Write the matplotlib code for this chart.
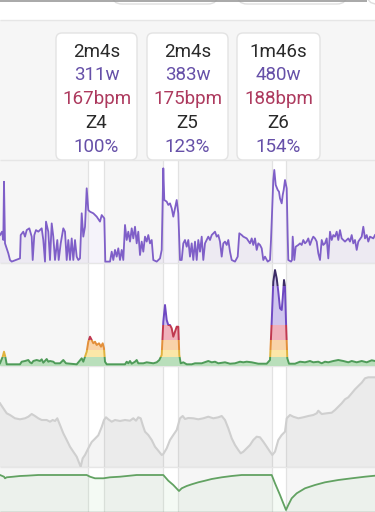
import numpy as np
import matplotlib.pyplot as plt
from matplotlib.patches import Rectangle, FancyBboxPatch

plt.rcParams['font.family'] = ['Roboto', 'DejaVu Sans']

W, H = 375, 512

# time axis is in screen ticks (~7.6 s each)
intervals = [(87.5, 104), (162.5, 178), (272, 286)]
lab_time = ['2m4s', '2m4s', '1m46s']
lab_watts = ['311w', '383w', '480w']
lab_bpm = ['167bpm', '175bpm', '188bpm']
lab_zone = ['Z4', 'Z5', 'Z6']
lab_pct = ['100%', '123%', '154%']

# power (watts)
power_t = [0, 2, 3.3, 4, 5, 6.7, 8.3, 10, 11.7, 20,
           20.7, 23.3, 25, 26.7, 29.3, 31.7, 32.7, 34.3, 36, 38.3,
           41.7, 43.3, 45, 46, 48.3, 50, 51.7, 53.3, 55, 57.3,
           58.7, 60.7, 63.3, 65, 66.7, 68.3, 70, 71.7, 73.3, 75,
           76.7, 78.3, 80, 81.7, 83.3, 85, 86.7, 88.3, 90, 93.3,
           96.7, 100, 101.7, 104.3, 105.3, 110, 111.7, 113.3, 115, 116.7,
           118.3, 120, 121.7, 123.3, 125, 126.7, 128.3, 130, 131.7, 133.3,
           135, 136.7, 138.3, 140, 141.7, 143.3, 145, 146.7, 148.3, 150,
           151.7, 153.3, 156.7, 160, 161.7, 163.3, 164.3, 166.7, 168.3, 170,
           171.7, 173.3, 175, 176.7, 178.3, 180, 181.7, 183.3, 185, 186.7,
           188.3, 190, 191.7, 193.3, 195, 196.7, 198.3, 200, 201.7, 203.3,
           205, 206.7, 208.3, 210, 211.7, 215, 216.7, 218.3, 220, 221.7,
           223.3, 225, 226.7, 228.3, 230, 231.7, 235, 237.7, 239.3, 241.7,
           243.3, 246.7, 250, 251.7, 253.3, 255, 256.7, 258.3, 260, 261.7,
           263.3, 265, 267.7, 270, 271, 272.3, 273.3, 274.3, 275.7, 277.7,
           279, 280, 281.7, 282.7, 283.7, 285, 286.7, 287.7, 288.3, 291,
           292, 292.7, 294.3, 295.7, 298.3, 300, 301.7, 303.3, 305, 306.7,
           308.3, 310, 311.7, 313.3, 315, 316.7, 318.3, 320, 321.7, 323.3,
           325, 326.7, 328.3, 330, 331.7, 333.3, 335, 336.7, 338.3, 340,
           341.7, 345, 348.3, 350, 351.7, 353.3, 355, 356.7, 358.3, 361.7,
           363.3, 365, 366.7, 368.3, 370, 373.3, 375]
power_w = [181, 202, 150, 514, 129, 98, 67, 25, 15, 35,
           181, 202, 171, 212, 223, 171, 25, 181, 212, 202,
           223, 150, 15, 265, 202, 25, 254, 171, 25, 150,
           25, 129, 223, 202, 25, 150, 25, 160, 25, 150,
           46, 25, 35, 317, 171, 233, 473, 337, 327, 317,
           296, 265, 306, 285, 15, 15, 77, 25, 88, 46,
           98, 25, 88, 25, 244, 150, 202, 140, 223, 160,
           233, 129, 202, 56, 140, 77, 171, 140, 181, 129,
           150, 25, 15, 35, 88, 598, 400, 390, 369, 379,
           348, 296, 348, 400, 317, 25, 25, 129, 150, 108,
           150, 46, 129, 25, 140, 25, 150, 77, 171, 25,
           129, 150, 171, 150, 181, 202, 171, 181, 140, 46,
           129, 140, 119, 150, 77, 25, 15, 46, 192, 181,
           171, 160, 129, 160, 119, 160, 88, 129, 119, 98,
           25, 46, 15, 25, 150, 358, 525, 588, 494, 463,
           452, 410, 379, 431, 463, 525, 473, 171, 25, 15,
           25, 171, 25, 108, 119, 129, 119, 150, 129, 140,
           160, 119, 150, 171, 160, 140, 67, 25, 150, 119,
           129, 160, 35, 202, 150, 181, 171, 202, 150, 212,
           160, 140, 160, 140, 181, 129, 150, 88, 140, 171,
           233, 160, 181, 140, 171, 160, 181]

# zone load curve (coloured by zone)
load_t = [0, 2.7, 4, 5.3, 6.7, 20, 21.7, 25, 28.3, 30,
          31.7, 33.3, 36.7, 40, 41.7, 43.3, 46.7, 48.3, 50, 53.3,
          55, 60, 63.3, 66, 76.7, 81.7, 83.3, 85, 86.7, 88.3,
          90, 91.7, 93.3, 95, 96.7, 99, 101, 102.7, 104, 105,
          106.7, 125, 126.7, 128.3, 130, 131.7, 135, 136.7, 138.3, 143.3,
          146.7, 153.3, 156.7, 159.3, 161.7, 163.3, 165, 166.7, 168.3, 170,
          171.7, 173.3, 175, 176.7, 178.3, 179.3, 180.7, 183.3, 186.7, 191.7,
          195, 201.7, 208.3, 211.7, 215, 218.3, 225, 230, 235, 240,
          243.3, 246.7, 251.7, 255, 258.3, 266.7, 270, 271.7, 273.3, 275,
          276.7, 278.3, 280, 281.7, 282.7, 284, 285, 286, 287.3, 289,
          295, 300, 305, 310, 313.3, 318.3, 321.7, 325, 328.3, 333.3,
          338.3, 343.3, 348.3, 351.7, 356.7, 361.7, 366.7, 371.7, 375]
load_v = [2.7, 9.3, 14.3, 9.3, 1.7, 1.7, 4.3, 5, 6, 3.7,
          2.7, 5, 6, 5, 6.7, 3.3, 7, 4.3, 5, 4.3,
          2.7, 2.7, 6, 2.7, 1.7, 7.7, 4.3, 9.3, 14.3, 24.3,
          29.3, 26, 22.7, 24.3, 21, 22.7, 19.3, 22.7, 17.7, 4.3,
          1.7, 1.7, 4.3, 2.7, 5, 2.3, 4.3, 6, 2.7, 2.7,
          3.7, 2.7, 3.7, 6, 11, 44.3, 61, 46, 41, 41,
          37.7, 29.3, 34.3, 39.3, 39.3, 11, 2.7, 3.7, 1.7, 1.7,
          2.7, 2.7, 5, 3.7, 4.3, 2.7, 3.7, 2.3, 2.7, 4.3,
          3.7, 4.3, 3.7, 3, 2.3, 2.3, 6, 44.3, 84.3, 96,
          87.7, 74.3, 57.7, 56, 67.7, 86, 79.3, 44.3, 7.7, 2.3,
          2.3, 4.3, 3.7, 5, 3.7, 4.3, 2.7, 4.3, 3.7, 5,
          6, 5, 3.7, 5, 3.7, 5, 3.7, 5.7, 5]
zone_lo = [0, 9, 16, 26, 41, 80]
zone_fill = ['#b9dfbb', '#fbe7a8', '#f9d3a8', '#f0b1bb', '#cfc5ee', '#cfc5ee']
zone_line = ['#4f9b59', '#e0b23e', '#e38f3a', '#c0384f', '#6f49c2', '#3c2c66']

# altitude (relative metres)
alt_t = [0, 3.3, 6.7, 10, 15, 20, 25, 28.3, 31.7, 35,
         38.3, 41.7, 46.7, 50, 52.7, 55, 57.3, 60, 63.3, 66.7,
         70, 73.3, 76.7, 79.3, 80.7, 82.7, 85, 88.3, 91.7, 95,
         98.3, 101.7, 104, 106, 108.3, 111.7, 115, 120, 125, 130,
         133.3, 136, 138.3, 140.7, 142.7, 145, 148.3, 151.7, 155, 158.3,
         161.7, 163.3, 166.7, 170, 173.3, 176.7, 180, 182.7, 185, 188.3,
         193.3, 198.3, 203.3, 208.3, 213.3, 218.3, 221.7, 225, 228.3, 231.7,
         235, 238.3, 240.7, 243.3, 246.7, 250, 253.3, 256.7, 260, 263.3,
         266.7, 270, 272.3, 275, 278.3, 281.7, 285, 286.7, 290, 293.3,
         298.3, 303.3, 308.3, 313.3, 316.7, 318.3, 321.7, 326.7, 331.7, 335,
         338.3, 341.7, 345, 348.3, 351.7, 355, 358.3, 361.7, 365, 368.3,
         375]
alt_m = [63.7, 58.7, 53.7, 52, 48.7, 47.7, 48.7, 50.3, 53, 51,
         48.7, 47, 47, 45.3, 47, 46, 48.7, 42, 33.7, 27,
         20.3, 15.3, 10.3, 3.7, 0.3, 8.7, 12, 18.7, 25, 28.3,
         31.7, 40, 47, 49.7, 47.7, 45.3, 47, 46, 47, 46.3,
         48.7, 46.3, 49.7, 48.7, 42, 35.3, 32, 27, 20.3, 16.3,
         12, 13, 18.7, 27, 32, 37, 48.7, 51, 48, 49,
         48.7, 47.7, 48.7, 50.3, 48.7, 49.7, 51, 47, 38.7, 28.7,
         22, 17, 13.7, 15.3, 18.7, 22, 27, 30.3, 29.7, 25.3,
         20.3, 15.3, 12, 15.3, 27, 32, 35.3, 48.7, 52, 50.3,
         48.7, 49.7, 51, 52, 53.7, 56.3, 53, 53.7, 54.3, 57,
         60.3, 63.7, 67.7, 69.7, 73.7, 77.7, 81, 84.3, 88.7, 89.7,
         89.7]

# W' balance
wbal_t = [0, 4, 5, 6.7, 13.3, 20, 26.7, 38.3, 86.7, 90,
          95, 103.3, 110, 120, 136.7, 163.3, 168.3, 173.3, 179, 181.7,
          186.7, 191.7, 198.3, 205, 211.7, 221.7, 231.7, 241.7, 271.7, 275,
          280, 283.3, 286, 288.3, 291.7, 296.7, 305, 315, 325, 338.3,
          351.7, 365, 375]
wbal_v = [37, 35.3, 33.7, 34.7, 35.3, 36, 36.3, 37, 37, 35.3,
          33.7, 33.7, 34.7, 35.3, 37, 37, 31.3, 27, 21, 23.7,
          26, 27.7, 29.7, 31.3, 33, 34.7, 36, 37, 37, 28.7,
          17, 8.7, 2, 7, 13.7, 18.7, 23.7, 27, 29.7, 32,
          33.7, 35.3, 36.3]

fig = plt.figure(figsize=(W / 100, H / 100), dpi=100)
fig.patch.set_facecolor('white')

# background / chrome, in pixel coords
bg = fig.add_axes([0, 0, 1, 1])
bg.set_xlim(0, W)
bg.set_ylim(H, 0)
bg.axis('off')
bg.set_zorder(0)
bg.add_patch(Rectangle((0, 20), W, H - 20, color='#f6f6f6', lw=0))
bg.hlines(0.5, 0, 367, color='#9a9a9a', lw=1.2)
for x0, x1 in [(112, 218), (237, 347), (367, 420)]:
    bg.add_patch(FancyBboxPatch((x0, -30), x1 - x0, 34,
                                boxstyle='round,pad=0,rounding_size=10',
                                fc='white', ec='#dedede', lw=1))
for s, e in intervals:
    bg.add_patch(Rectangle((s, 160), e - s, H - 160, color='white', lw=0))
    bg.vlines([s, e], 160, H, color='#e2e2e2', lw=0.9)
bg.hlines([20, 160, 263, 366, 467], 0, W, color='#e6e6e6', lw=1)
bg.hlines(511.5, 0, W, color='#8d968d', lw=1)

# tooltip boxes
box_x = [(56, 137), (147, 228), (237, 320)]
baselines = [57, 80.5, 104, 128, 152]
for i, (x0, x1) in enumerate(box_x):
    bg.add_patch(FancyBboxPatch((x0, 33), x1 - x0, 127,
                                boxstyle='round,pad=0,rounding_size=6',
                                fc='white', ec='#e3e3e3', lw=1))
    rows = [(lab_time[i], '#2a2a2a'), (lab_watts[i], '#6650a8'),
            (lab_bpm[i], '#ad3a5e'), (lab_zone[i], '#2a2a2a'),
            (lab_pct[i], '#6650a8')]
    for (txt, c), by in zip(rows, baselines):
        bg.text((x0 + x1) / 2, by, txt, ha='center', va='baseline',
                fontsize=13.5, color=c)


def panel(top, bottom):
    ax = fig.add_axes([0, 1 - bottom / H, 1, (bottom - top) / H])
    ax.set_xlim(0, W)
    ax.set_facecolor('none')
    ax.axis('off')
    ax.set_zorder(1)
    return ax


# power
ax = panel(160, 263)
ax.set_ylim(6.25, 650)
ax.fill_between(power_t, 0, power_w, color='#7e57c2', alpha=0.07, lw=0)
ax.plot(power_t, power_w, color='#7f5fc8', lw=1.3)

# zone load
ax = panel(263, 366)
ax.set_ylim(0, 103)
lt = np.array(load_t)
lv = np.array(load_v)
for i, lo in enumerate(zone_lo):
    hi = zone_lo[i + 1] if i + 1 < len(zone_lo) else 500
    clip = Rectangle((0, lo), W, hi - lo, transform=ax.transData)
    f = ax.fill_between(lt, 0, lv, color=zone_fill[i], lw=0)
    f.set_clip_path(clip)
    ln, = ax.plot(lt, lv, color=zone_line[i], lw=1.4)
    ln.set_clip_path(Rectangle((0, lo), W, hi - lo, transform=ax.transData))

# altitude
ax = panel(366, 467)
ax.set_ylim(0, 101)
ax.fill_between(alt_t, 0, alt_m, color='black', alpha=0.045, lw=0)
ax.plot(alt_t, alt_m, color='#cfcfcf', lw=1.5)

# W' balance
ax = panel(467, 512)
ax.set_ylim(0, 45)
ax.fill_between(wbal_t, 0, wbal_v, color='#4caf50', alpha=0.06, lw=0)
ax.plot(wbal_t, wbal_v, color='#62a262', lw=1.3)

fig.savefig('out.png', dpi=100)
